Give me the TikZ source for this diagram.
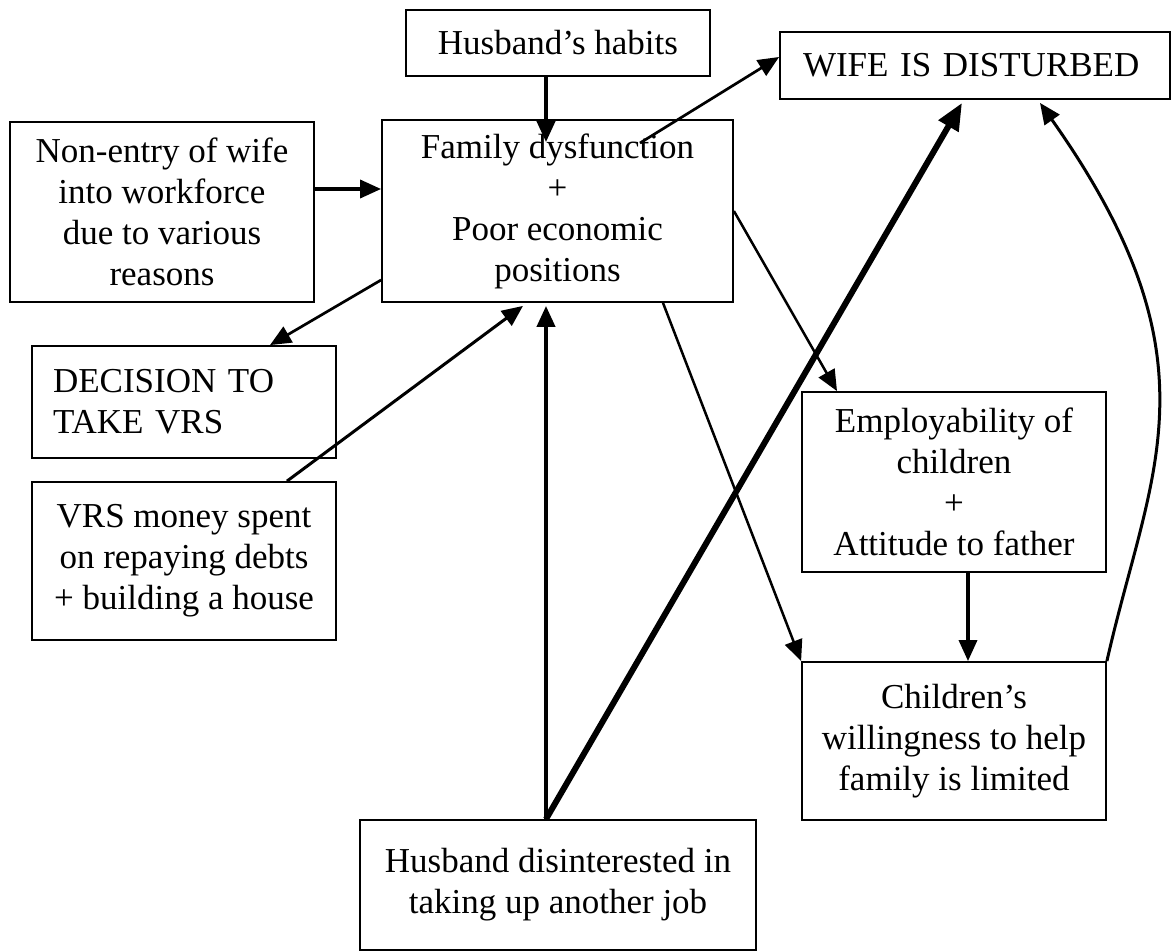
\documentclass[tikz,border=0pt]{standalone}
\usepackage{fontspec}
\setmainfont{Liberation Serif}
\usetikzlibrary{arrows.meta}

\tikzset{
  box/.style={draw, line width=1.8pt, align=center, inner sep=0pt},
  link/.style={-{Triangle[length=21pt,width=18pt]}, line width=2.7pt},
  heavylink/.style={-{Triangle[length=27pt,width=22pt]}, line width=6pt},
}

\begin{document}
\begin{tikzpicture}[x=1pt, y=-1pt, font=\fontsize{35pt}{41pt}\selectfont]
  \useasboundingbox (0,0) rectangle (1171,952);

  % Boxes
  \node[box, minimum width=304pt, minimum height=66pt] at (558, 43) (habits) {Husband’s habits};
  \node[box, text width=344pt, inner xsep=23pt, align=left, minimum height=67pt] at (975, 65.5) (wife) {WIFE IS DISTURBED};
  \node[box, minimum width=304pt, minimum height=180pt] at (162, 212) (nonentry) {Non-entry of wife\\into workforce\\due to various\\reasons};
  \node[box, minimum width=351pt, minimum height=182pt] at (557.5, 211) (family) {Family dysfunction\\+\\Poor economic\\positions};
  \node[box, text width=262pt, inner xsep=21pt, align=left, minimum height=112pt] at (184, 402) (decision) {DECISION TO\\TAKE VRS};
  \node[box, minimum width=304pt, minimum height=158pt] at (184, 561) (vrs) {VRS money spent\\on repaying debts\\+ building a house};
  \node[box, minimum width=304pt, minimum height=180pt] at (954, 482) (employ) {Employability of\\children\\+\\Attitude to father};
  \node[box, minimum width=304pt, minimum height=158pt] at (954, 741) (children) {Children’s\\willingness to help\\family is limited};
  \node[box, minimum width=396pt, minimum height=130pt] at (558, 885) (husband) {Husband disinterested in\\taking up another job};

  % Connectors
  \draw[link, line width=4pt] ([xshift=-12pt]habits.south) -- ([xshift=-11.5pt, yshift=-23pt]family.north);
  \draw[link, line width=3.5pt] ([yshift=23pt]nonentry.east) -- ([yshift=22pt]family.west);
  \draw[link] ([xshift=82.5pt, yshift=68pt]family.center) -- ([yshift=8.5pt]wife.west);
  \draw[link] ([yshift=-69pt]family.west) -- ([xshift=86pt]decision.north);
  \draw[link, line width=3pt] ([xshift=103pt]vrs.north) -- ([xshift=-34.5pt, yshift=-3pt]family.south);
  \draw[link, line width=4pt] ([xshift=-12pt]husband.north) -- ([xshift=-11.5pt, yshift=-3pt]family.south);
  \draw[heavylink] ([xshift=-12pt]husband.north) -- ([xshift=-13pt, yshift=-3pt]wife.south);
  \draw[link, line width=2.5pt] (family.east) -- ([xshift=-117pt]employ.north);
  \draw[link, line width=2.5pt] ([xshift=105.5pt]family.south) -- (children.north west);
  \draw[link, line width=3.5pt] ([xshift=14pt]employ.south) -- ([xshift=14pt]children.north);
  \draw[link, line width=3pt] (children.north east) .. controls (1150,470) and (1223,362) .. ([xshift=65pt, yshift=-3pt]wife.south);

\end{tikzpicture}
\end{document}
